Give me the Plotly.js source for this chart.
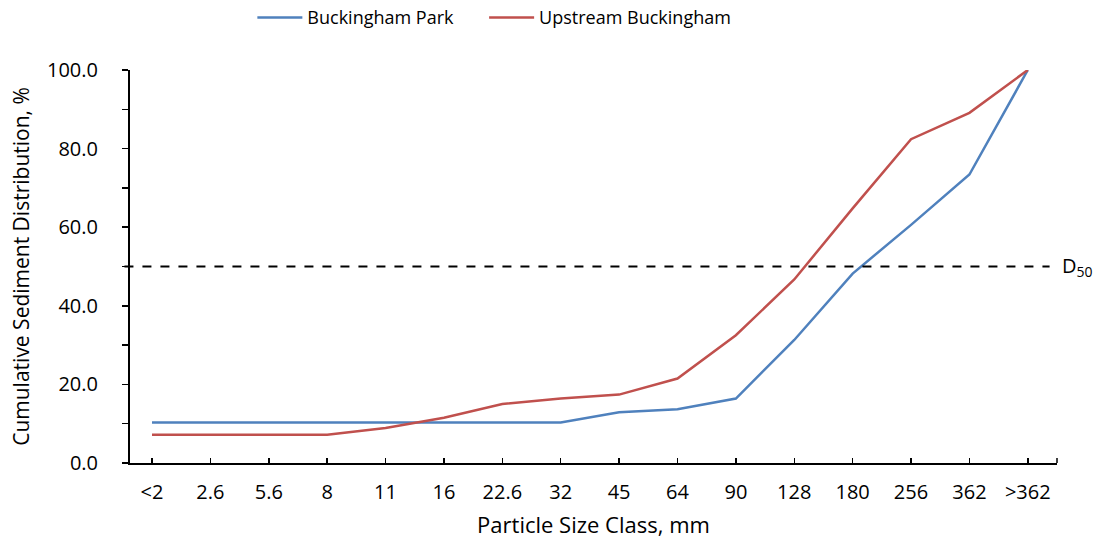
<!DOCTYPE html>
<html>
<head>
<meta charset="utf-8">
<script src="https://cdn.plot.ly/plotly-3.0.1.min.js"></script>
<style>body{margin:0;background:#fff}#chart{width:1099px;height:550px}</style>
</head>
<body>
<div id="chart"></div>
<script>
var categories = ["<2","2.6","5.6","8","11","16","22.6","32","45","64","90","128","180","256","362",">362"];
var buckinghamPark = [10.3,10.3,10.3,10.3,10.3,10.3,10.3,10.3,12.9,13.7,16.4,31.3,48.2,60.6,73.4,100];
var upstreamBuckingham = [7.2,7.2,7.2,7.2,8.9,11.5,15.0,16.4,17.4,21.5,32.5,46.7,64.8,82.4,89.1,100];
var d50Value = 50;
var yTickVals = [0,20,40,60,80,100];
var yTickText = ["0.0","20.0","40.0","60.0","80.0","100.0"];

var FONT = "Open Sans, sans-serif";
var idx = categories.map(function(_, i){ return i; });

var traces = [
  {x: idx, y: buckinghamPark, name: "Buckingham Park", type: "scatter", mode: "lines",
   line: {color: "#4F81BD", width: 2.5}, legend: "legend"},
  {x: idx, y: upstreamBuckingham, name: "Upstream Buckingham", type: "scatter", mode: "lines",
   line: {color: "#C0504D", width: 2.5}, legend: "legend2"}
];

var legendCommon = {orientation: "h", xanchor: "left", y: 1.133, yanchor: "middle",
  font: {family: FONT, size: 18, color: "#000"}, itemwidth: 45, bgcolor: "rgba(0,0,0,0)"};

var layout = {
  width: 1099, height: 550,
  margin: {l: 130, r: 42, t: 70, b: 87, autoexpand: false},
  paper_bgcolor: "#fff", plot_bgcolor: "#fff",
  font: {family: FONT, color: "#000", size: 18},
  showlegend: true,
  legend: Object.assign({}, legendCommon, {x: 0.132}),
  legend2: Object.assign({}, legendCommon, {x: 0.382}),
  xaxis: {
    range: [-0.377, 15.5],
    tickvals: idx, ticktext: categories,
    ticks: "inside", ticklen: 5, tickwidth: 1.5, tickcolor: "#000",
    ticklabelstandoff: 10,
    showline: true, linecolor: "#000", linewidth: 2,
    showgrid: false, zeroline: false,
    tickfont: {family: FONT, size: 20, color: "#000"},
    title: {text: "Particle Size Class, mm", font: {family: FONT, size: 22, color: "#000"}, standoff: 14}
  },
  yaxis: {
    range: [0, 100],
    tickvals: yTickVals, ticktext: yTickText,
    ticks: "outside", ticklen: 6, tickwidth: 1.5, tickcolor: "#000",
    ticklabelstandoff: 20,
    minor: {dtick: 10, ticks: "outside", ticklen: 6, tickwidth: 1.5, tickcolor: "#000", showgrid: false},
    showline: true, linecolor: "#000", linewidth: 2,
    showgrid: false, zeroline: false,
    tickfont: {family: FONT, size: 20, color: "#000"},
    title: {text: "Cumulative Sediment Distribution, %", font: {family: FONT, size: 21, color: "#000"}, standoff: 12}
  },
  shapes: [
    {type: "line", xref: "paper", yref: "y", x0: -0.006, x1: 0.992, y0: d50Value, y1: d50Value,
     line: {color: "#000", width: 2, dash: "dash"}},
    {type: "line", xref: "paper", yref: "paper", x0: 1, x1: 1, y0: 0, y1: 0.013,
     line: {color: "#000", width: 1.5}}
  ],
  annotations: [
    {xref: "paper", yref: "y", x: 1.003, y: d50Value, xanchor: "left", yanchor: "middle",
     text: "D<sub>50</sub>", showarrow: false, font: {family: FONT, size: 20, color: "#000"}}
  ]
};

Plotly.newPlot("chart", traces, layout, {displayModeBar: false, staticPlot: true});
</script>
</body>
</html>
